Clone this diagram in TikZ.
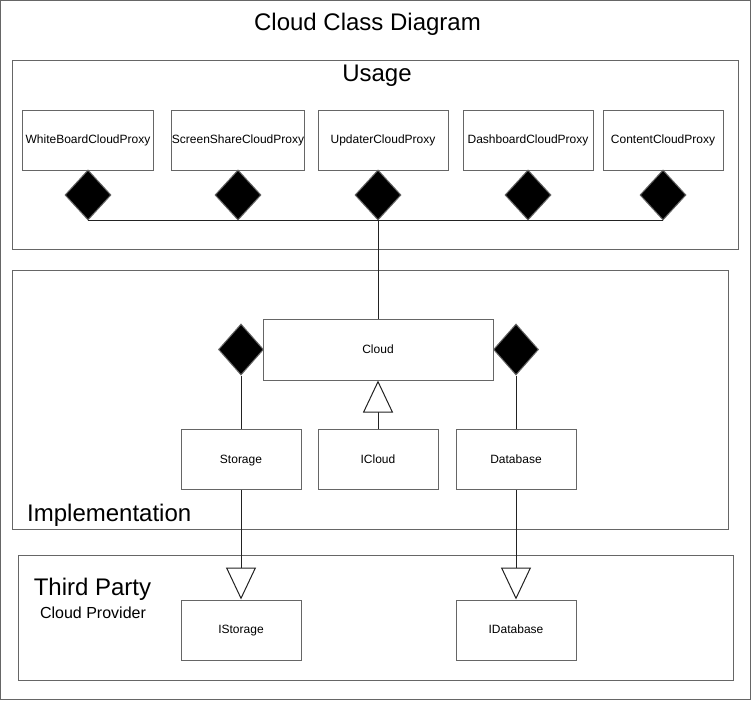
\documentclass[tikz,border=0pt]{standalone}
\usepackage{fontspec}
\setmainfont{Liberation Sans}
\usetikzlibrary{shapes.geometric,arrows.meta}
\definecolor{frame}{HTML}{666666}
\definecolor{edge}{HTML}{222222}
\tikzset{
  cls/.style={draw=frame, line width=1pt, fill=white, inner sep=0pt, font=\fontsize{12}{14}\selectfont, text height=9pt, text depth=2pt, minimum height=60pt},
  region/.style={draw=frame, line width=1pt},
  comp/.style={diamond, draw=frame, fill=black, line width=1pt, inner sep=0pt, minimum width=46pt, minimum height=50pt},
  conn/.style={draw=edge, line width=1pt},
  inh/.style={conn, -{Triangle[open, length=32pt, width=30pt, line width=1pt, fill=white]}},
  big/.style={font=\fontsize{24}{28}\selectfont, inner sep=0pt, anchor=base},
}
\begin{document}
\begin{tikzpicture}[x=1pt,y=-1pt]
\useasboundingbox (0,0) rectangle (751,701);
% frames
\draw[region] (0.5,0.5) rectangle (750,699.5);
\node[big] (title) at (367.5,31) {Cloud Class Diagram};
\draw[region] (12.5,60.5) rectangle (738,249);
\node[big] (usage) at (377,81) {Usage};
\draw[region] (12.5,270.5) rectangle (728,529.5);
\node[big, anchor=base west] (impl) at (27,521) {Implementation};
\draw[region] (18,555.5) rectangle (733,680);
\node[big] (tp) at (92.5,595) {Third Party};
\node[font=\fontsize{16}{18}\selectfont, inner sep=0pt, anchor=base] (cp) at (93,618) {Cloud Provider};
% proxies
\node[cls, minimum width=131pt] (wb) at (88,140) {WhiteBoardCloudProxy};
\node[cls, minimum width=131pt] (ss) at (238,140) {ScreenShareCloudProxy};
\node[cls, minimum width=130pt] (up) at (383,140) {UpdaterCloudProxy};
\node[cls, minimum width=130pt] (db) at (528,140) {DashboardCloudProxy};
\node[cls, minimum width=120pt] (ct) at (663,140) {ContentCloudProxy};
\node[comp] (d1) at (88,195) {};
\node[comp] (d2) at (238,195) {};
\node[comp] (d3) at (378,195) {};
\node[comp] (d4) at (528,195) {};
\node[comp] (d5) at (663,195) {};
\draw[conn] (d1.south) -- (d5.south);
% implementation
\node[cls, minimum width=230pt, minimum height=61pt] (cloud) at (378,349.5) {Cloud};
\draw[conn] (d3.south) -- (cloud.north);
\node[comp, minimum width=45pt, minimum height=51pt] (dl) at (241,349.5) {};
\node[comp, minimum width=45pt, minimum height=51pt] (dr) at (516,349.5) {};
\node[cls, minimum width=120pt] (storage) at (241,459.5) {Storage};
\node[cls, minimum width=120pt] (icloud) at (378,459.5) {ICloud};
\node[cls, minimum width=120pt] (database) at (516,459.5) {Database};
\draw[conn] (storage.north) -- (dl.south);
\draw[conn] (database.north) -- (dr.south);
\draw[inh] (icloud.north) -- (cloud.south);
% third party
\node[cls, minimum width=120pt] (istorage) at (241,630) {IStorage};
\node[cls, minimum width=120pt] (idatabase) at (516,630) {IDatabase};
\draw[inh] (storage.south) -- (istorage.north);
\draw[inh] (database.south) -- (idatabase.north);
\end{tikzpicture}
\end{document}
